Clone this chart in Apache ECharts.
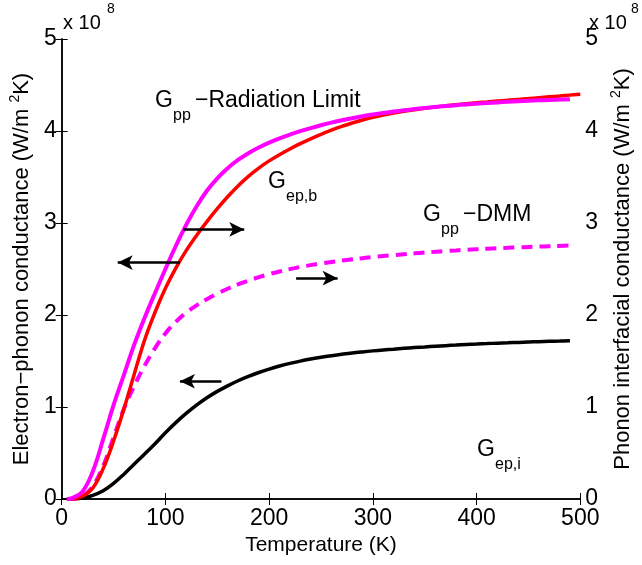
<!DOCTYPE html>
<html>
<head>
<meta charset="utf-8">
<script src="https://cdn.jsdelivr.net/npm/echarts@6/dist/echarts.min.js"></script>
<style>
    html, body { margin: 0; padding: 0; background: #fff; }
    #chart { width: 642px; height: 565px; }
</style>
</head>
<body>
<div id="chart"></div>
<script>
// temperatures (K) shared by the curves
var temps = [5, 10, 20, 30, 40, 50, 60, 70, 80, 90,
    100, 110, 120, 130, 140, 150, 160, 170, 180, 190,
    200, 210, 220, 230, 240, 250, 260, 270, 280, 290,
    300, 310, 320, 330, 340, 350, 360, 370, 380, 390,
    400, 410, 420, 430, 440, 450, 460, 470, 480, 490]
// values in units of 1e8 W/m^2K
var gppRadiation = [0, 0.01, 0.08, 0.30, 0.65, 1.02, 1.35, 1.68, 1.97, 2.24,
    2.50, 2.75, 2.98, 3.18, 3.35, 3.485, 3.595, 3.685, 3.759, 3.821,
    3.874, 3.92, 3.961, 3.998, 4.032, 4.063, 4.091, 4.116, 4.139, 4.16,
    4.179, 4.196, 4.211, 4.225, 4.238, 4.25, 4.261, 4.271, 4.28, 4.289,
    4.297, 4.304, 4.311, 4.317, 4.323, 4.328, 4.333, 4.338, 4.342, 4.346]
var gepBTemps = temps.concat([500])
var gepB = [0, 0, 0.03, 0.12, 0.33, 0.63, 0.98, 1.36, 1.73, 2.03,
    2.29, 2.51, 2.70, 2.865, 3.015, 3.155, 3.285, 3.403, 3.507, 3.597,
    3.675, 3.743, 3.805, 3.862, 3.915, 3.964, 4.009, 4.05, 4.087, 4.12,
    4.149, 4.174, 4.196, 4.215, 4.232, 4.247, 4.261, 4.274, 4.286, 4.297,
    4.307, 4.316, 4.325, 4.334, 4.343, 4.352, 4.362, 4.371, 4.38, 4.39, 4.40]
var gppDmm = [0, 0, 0.03, 0.14, 0.36, 0.67, 0.98, 1.23, 1.45, 1.64,
    1.80, 1.925, 2.025, 2.105, 2.172, 2.232, 2.285, 2.332, 2.374, 2.411,
    2.444, 2.473, 2.499, 2.522, 2.542, 2.56, 2.576, 2.591, 2.605, 2.618,
    2.63, 2.641, 2.651, 2.661, 2.67, 2.679, 2.687, 2.695, 2.702, 2.709,
    2.715, 2.72, 2.725, 2.73, 2.735, 2.739, 2.743, 2.747, 2.751, 2.755]
var gepI = [0, 0, 0.01, 0.04, 0.09, 0.17, 0.27, 0.38, 0.49, 0.60,
    0.72, 0.83, 0.93, 1.02, 1.10, 1.17, 1.23, 1.285, 1.333, 1.375,
    1.412, 1.445, 1.474, 1.499, 1.521, 1.541, 1.558, 1.573, 1.587, 1.599,
    1.61, 1.62, 1.629, 1.638, 1.646, 1.653, 1.66, 1.667, 1.673, 1.679,
    1.684, 1.689, 1.694, 1.698, 1.702, 1.706, 1.71, 1.714, 1.717, 1.72]
// arrows pointing to the axis each curve belongs to: [x1, y1, x2, y2] in data units
var arrows = [
    [117, 2.93, 176, 2.93],
    [114, 2.57, 54, 2.57],
    [226, 2.40, 266, 2.40],
    [154, 1.28, 114, 1.28]
]

var font = '"Liberation Sans", Arial, sans-serif'

function pairs(xs, ys) {
    return xs.map(function (x, i) { return [x, ys[i]] })
}

// G with a subscript and optional trailing text
function gLabel(x, y, sub, rest) {
    var items = [
        { type: 'text', x: x, y: y, style: { text: 'G', font: '23px ' + font, fill: '#000', verticalAlign: 'middle' } },
        { type: 'text', x: x + 18, y: y + 15, style: { text: sub, font: '16px ' + font, fill: '#000', verticalAlign: 'middle' } }
    ]
    if (rest) {
        items.push({ type: 'text', x: x + 40, y: y, style: { text: rest, font: '23px ' + font, fill: '#000', verticalAlign: 'middle' } })
    }
    return items
}

var chart = echarts.init(document.getElementById('chart'))

var axisLine = { lineStyle: { color: '#000', width: 1.5 } }
var axisTick = { inside: true, length: 6, lineStyle: { color: '#000', width: 1 } }
var yName = {
    fontSize: 22, color: '#000', fontFamily: font,
    rich: { sup: { fontSize: 14, fontFamily: font, color: '#000', padding: [0, 0, 14, 0] } }
}

chart.setOption({
    animation: false,
    backgroundColor: '#fff',
    grid: { left: 60, right: 55, top: 39, bottom: 66 },
    xAxis: [
        {
            type: 'value', min: 0, max: 500, interval: 100, position: 'bottom',
            axisLine: axisLine, axisTick: axisTick, splitLine: { show: false },
            axisLabel: { color: '#000', fontSize: 23, fontFamily: font, margin: 8 },
            name: 'Temperature (K)', nameLocation: 'middle', nameGap: 34,
            nameTextStyle: { fontSize: 21, color: '#000', fontFamily: font }
        },
        {
            type: 'value', min: 0, max: 500, interval: 100, position: 'top',
            axisLine: axisLine, axisTick: axisTick, splitLine: { show: false },
            axisLabel: { show: false }
        }
    ],
    yAxis: [
        {
            type: 'value', min: 0, max: 5, interval: 1, position: 'left',
            axisLine: axisLine, axisTick: axisTick, splitLine: { show: false },
            axisLabel: { color: '#000', fontSize: 23, fontFamily: font, margin: 5 },
            name: 'Electron\u2212phonon conductance (W/m {sup|2}K)', nameLocation: 'middle', nameRotate: 90, nameGap: 23,
            nameTextStyle: yName
        },
        {
            type: 'value', min: 0, max: 5, interval: 1, position: 'right',
            axisLine: axisLine, axisTick: axisTick, splitLine: { show: false },
            axisLabel: { color: '#000', fontSize: 23, fontFamily: font, margin: 5 },
            name: 'Phonon interfacial conductance (W/m {sup|2}K)', nameLocation: 'middle', nameRotate: 90, nameGap: 26,
            nameTextStyle: yName
        }
    ],
    series: [
        {
            name: 'Gep,i', type: 'line', yAxisIndex: 0, showSymbol: false, smooth: 0.4,
            lineStyle: { color: '#000', width: 3.5 },
            data: pairs(temps, gepI),
            markLine: {
                silent: true, symbol: ['none', 'arrow'], symbolSize: [11, 15],
                lineStyle: { color: '#000', width: 2.5, type: 'solid' },
                label: { show: false },
                data: arrows.map(function (a) { return [{ coord: [a[0], a[1]] }, { coord: [a[2], a[3]] }] })
            }
        },
        {
            name: 'Gpp-DMM', type: 'line', yAxisIndex: 1, showSymbol: false, smooth: 0.4,
            lineStyle: { color: '#ff00ff', width: 4, type: [11, 7] },
            data: pairs(temps, gppDmm)
        },
        {
            name: 'Gep,b', type: 'line', yAxisIndex: 0, showSymbol: false, smooth: 0.4,
            lineStyle: { color: '#ff0000', width: 3.5 },
            data: pairs(gepBTemps, gepB)
        },
        {
            name: 'Gpp-Radiation Limit', type: 'line', yAxisIndex: 1, showSymbol: false, smooth: 0.4,
            lineStyle: { color: '#ff00ff', width: 4 },
            data: pairs(temps, gppRadiation)
        }
    ],
    graphic: [].concat(
        gLabel(155, 101, 'pp', '\u2212Radiation Limit'),
        gLabel(268, 182, 'ep,b'),
        gLabel(423, 215, 'pp', '\u2212DMM'),
        gLabel(477, 450, 'ep,i'),
        [
            { type: 'text', x: 63, y: 23, style: { text: 'x 10', font: '20px ' + font, fill: '#000', verticalAlign: 'middle' } },
            { type: 'text', x: 107, y: 9, style: { text: '8', font: '14px ' + font, fill: '#000', verticalAlign: 'middle' } },
            { type: 'text', x: 589, y: 23, style: { text: 'x 10', font: '20px ' + font, fill: '#000', verticalAlign: 'middle' } },
            { type: 'text', x: 631, y: 9, style: { text: '8', font: '14px ' + font, fill: '#000', verticalAlign: 'middle' } }
        ]
    )
})
</script>
</body>
</html>
